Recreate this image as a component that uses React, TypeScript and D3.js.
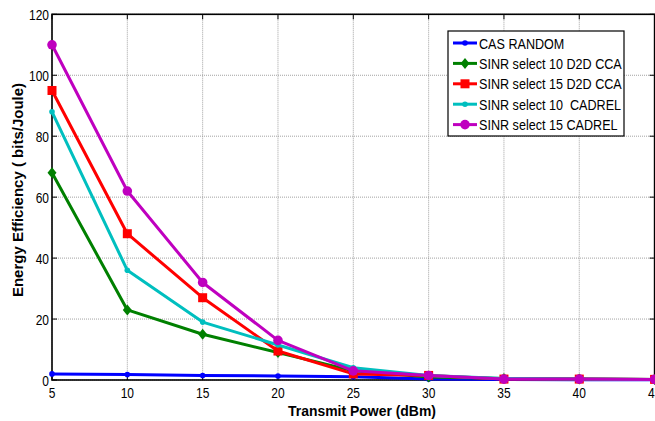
import React from "react";
import * as d3 from "d3";

const xValues = [5, 10, 15, 20, 25, 30, 35, 40, 45];
const xTicks = [5, 10, 15, 20, 25, 30, 35, 40, 45];
const yTicks = [0, 20, 40, 60, 80, 100, 120];

const seriesNames = [
  "CAS RANDOM",
  "SINR select 10 D2D CCA",
  "SINR select 15 D2D CCA",
  "SINR select 10  CADREL",
  "SINR select 15 CADREL",
];
const casRandom = [2, 1.8, 1.5, 1.3, 1.1, 0.3, 0.2, 0.1, 0.1];
const sinr10D2D = [68, 23, 15, 9, 3, 1, 0.5, 0.3, 0.2];
const sinr15D2D = [95, 48, 27, 9.5, 2, 1.5, 0.3, 0.3, 0.2];
const sinr10Cadrel = [88, 36, 19, 11.5, 4, 1.5, 0.5, 0.3, 0.2];
const sinr15Cadrel = [110, 62, 32, 13, 3, 1.5, 0.3, 0.3, 0.2];

const seriesValues = [casRandom, sinr10D2D, sinr15D2D, sinr10Cadrel, sinr15Cadrel];
const seriesColors = ["#0000ff", "#008000", "#ff0000", "#00bfbf", "#bf00bf"];
const seriesMarkers = ["dot", "diamond", "square", "dot", "circle"];

const FONT = "'Liberation Sans', Arial, Helvetica, sans-serif";

const left = 52;
const right = 654.6;
const top = 14.3;
const bottom = 380;

function Marker({ type, x, y, color }: { type: string; x: number; y: number; color: string }) {
  if (type === "dot") return <circle cx={x} cy={y} r={2.8} fill={color} />;
  if (type === "circle") return <circle cx={x} cy={y} r={4.8} fill={color} />;
  if (type === "square") return <rect x={x - 4.5} y={y - 4.5} width={9} height={9} fill={color} />;
  if (type === "diamond")
    return <path d={`M${x},${y - 5.5}L${x + 4.5},${y}L${x},${y + 5.5}L${x - 4.5},${y}Z`} fill={color} />;
  return null;
}

function NText({
  x,
  y,
  sx,
  anchor,
  size,
  weight,
  children,
}: {
  x: number;
  y: number;
  sx: number;
  anchor?: string;
  size: number;
  weight?: string;
  children: React.ReactNode;
}) {
  return (
    <text
      transform={`translate(${x},${y}) scale(${sx},1)`}
      textAnchor={anchor || "start"}
      fontSize={size}
      fontWeight={weight || "normal"}
      fill="#000"
      xmlSpace="preserve"
    >
      {children}
    </text>
  );
}

export default function App() {
  const x = d3.scaleLinear().domain([5, 45]).range([left, right]);
  const y = d3.scaleLinear().domain([0, 120]).range([bottom, top]);
  const line = d3
    .line<number>()
    .x((_, i) => x(xValues[i]))
    .y((d) => y(d));

  const legX = 448;
  const legY = 31;
  const legW = 176;
  const legH = 105;
  const rowY = (i: number) => legY + 12 + i * 20.4;

  return (
    <svg
      width={655}
      height={421}
      style={{ position: "absolute", left: 0, top: 0, background: "#fff" }}
      fontFamily={FONT}
    >
      <rect x={0} y={0} width={655} height={421} fill="#fff" />
      {/* grid */}
      {xTicks.map((t) => (
        <line key={"gx" + t} x1={x(t)} x2={x(t)} y1={top} y2={bottom} stroke="#8a8a8a" strokeWidth={0.8} strokeDasharray="1 1" />
      ))}
      {yTicks.map((t) => (
        <line key={"gy" + t} x1={left} x2={right} y1={y(t)} y2={y(t)} stroke="#8a8a8a" strokeWidth={0.8} strokeDasharray="1 1" />
      ))}
      {/* box */}
      <rect x={left} y={top} width={right - left} height={bottom - top} fill="none" stroke="#000" strokeWidth={1.6} />
      {/* ticks */}
      {xTicks.map((t) => (
        <g key={"tx" + t}>
          <line x1={x(t)} x2={x(t)} y1={bottom} y2={bottom - 5} stroke="#000" strokeWidth={1} />
          <line x1={x(t)} x2={x(t)} y1={top} y2={top + 5} stroke="#000" strokeWidth={1} />
          <NText x={x(t)} y={398} sx={0.8} anchor="middle" size={15}>
            {t}
          </NText>
        </g>
      ))}
      {yTicks.map((t) => (
        <g key={"ty" + t}>
          <line x1={left} x2={left + 5} y1={y(t)} y2={y(t)} stroke="#000" strokeWidth={1} />
          <line x1={right} x2={right - 5} y1={y(t)} y2={y(t)} stroke="#000" strokeWidth={1} />
          <NText x={49} y={y(t) + 5.5} sx={0.8} anchor="end" size={15}>
            {t}
          </NText>
        </g>
      ))}
      {/* series */}
      {seriesValues.map((vals, si) => (
        <g key={"s" + si}>
          <path d={line(vals) || ""} fill="none" stroke={seriesColors[si]} strokeWidth={3} strokeLinejoin="round" />
          {vals.map((v, i) => (
            <Marker key={i} type={seriesMarkers[si]} x={x(xValues[i])} y={y(v)} color={seriesColors[si]} />
          ))}
        </g>
      ))}
      {/* axis titles */}
      <NText x={362} y={416} sx={0.93} anchor="middle" size={15} weight="bold">
        Transmit Power (dBm)
      </NText>
      <text
        transform={`translate(23,190) rotate(-90)`}
        textAnchor="middle"
        fontSize={15}
        fontWeight="bold"
        fill="#000"
      >
        Energy Efficiency ( bits/Joule)
      </text>
      {/* legend */}
      <rect x={legX} y={legY} width={legW} height={legH} fill="#fff" stroke="#000" strokeWidth={1.2} />
      {seriesNames.map((name, i) => (
        <g key={"l" + i}>
          <line x1={453} x2={477} y1={rowY(i)} y2={rowY(i)} stroke={seriesColors[i]} strokeWidth={3} />
          <Marker type={seriesMarkers[i]} x={465} y={rowY(i)} color={seriesColors[i]} />
          <NText x={479} y={rowY(i) + 5.5} sx={0.84} size={15}>
            {name}
          </NText>
        </g>
      ))}
    </svg>
  );
}
